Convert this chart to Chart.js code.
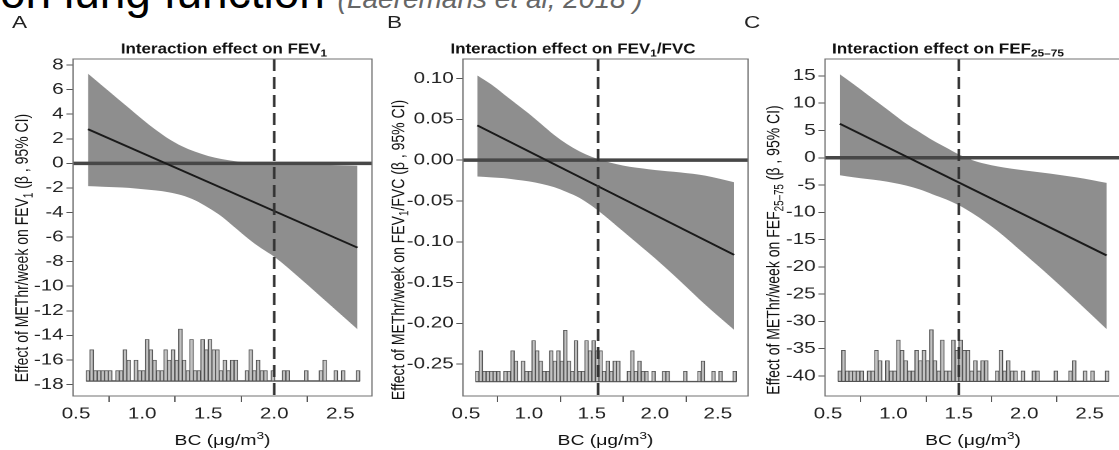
<!DOCTYPE html>
<html>
<head>
<meta charset="utf-8">
<script src="https://cdn.jsdelivr.net/npm/chart.js@4.4.1/dist/chart.umd.min.js"></script>
<style>
  body { margin: 0; width: 1119px; height: 450px; overflow: hidden; background: #fff; position: relative; font-family: "Liberation Sans", Arial, sans-serif; }
  #head { position: absolute; left: 0px; top: -31px; font-size: 46px; line-height: 46px; white-space: nowrap; color: #000; }
  #head i { color: #666; font-size: 28px; }
  #fig { position: absolute; left: 0; top: 0; width: 850px; height: 450px; transform-origin: 0 0; }
  #fig canvas { position: absolute; top: 0; }
  .lab { position: absolute; top: 13px; font-size: 17px; color: #222; }
</style>
</head>
<body>
<div id="head">on lung function <i>(Laeremans et al, 2018 )</i></div>
<div id="fig">
  <div class="lab" id="labA">A</div>
  <div class="lab" id="labB">B</div>
  <div class="lab" id="labC">C</div>
  <canvas id="cA"></canvas>
  <canvas id="cB"></canvas>
  <canvas id="cC"></canvas>
</div>
<script>
// histogram of BC values (same in the 3 panels)
const binStart = 0.576;
const binWidth = 0.028;
const binCounts = [1,3,1,1,1,1,1,0,1,1,
                   3,2,0,2,1,1,4,3,2,1,
                   1,3,2,3,2,5,2,1,4,1,
                   1,4,3,4,3,3,1,2,1,2,
                   2,0,0,1,3,1,2,1,1,0,
                   1,0,0,1,1,0,0,0,0,1,
                   0,0,0,1,2,0,0,1,0,1,
                   0,0,0,1];

const xRange = [0.477, 2.74];
const xTicks = [0.5, 1.0, 1.5, 2.0, 2.5];
const bandX = [0.59, 0.7, 0.8, 0.9, 1.0, 1.1, 1.2, 1.3, 1.4, 1.5, 1.6, 1.7, 1.8, 1.9, 2.0, 2.2, 2.4, 2.63];
const estX = [0.59, 2.63];

// A - FEV1
const yTicksA = [-18, -16, -14, -12, -10, -8, -6, -4, -2, 0, 2, 4, 6, 8];
const upperA = [7.3, 6.3, 5.4, 4.5, 3.6, 2.75, 2.0, 1.4, 0.95, 0.6, 0.35, 0.18, 0.08, 0.02, -0.02, -0.07, -0.12, -0.2];
const lowerA = [-1.85, -1.9, -1.95, -2.0, -2.1, -2.2, -2.35, -2.6, -3.0, -3.6, -4.3, -5.2, -6.1, -6.9, -7.6, -9.4, -11.3, -13.5];
const estA = [2.78, -6.86];
const cutA = 2.0;

// B - FEV1/FVC
const yTicksB = [-0.25, -0.20, -0.15, -0.10, -0.05, 0.00, 0.05, 0.10];
const upperB = [0.104, 0.093, 0.081, 0.069, 0.057, 0.044, 0.031, 0.020, 0.011, 0.004, -0.001, -0.005, -0.008, -0.010, -0.012, -0.015, -0.019, -0.027];
const lowerB = [-0.020, -0.021, -0.022, -0.024, -0.026, -0.029, -0.033, -0.039, -0.046, -0.056, -0.068, -0.081, -0.094, -0.107, -0.120, -0.148, -0.177, -0.208];
const estB = [0.0427, -0.116];
const cutB = 1.55;

// C - FEF25-75
const yTicksC = [-40, -35, -30, -25, -20, -15, -10, -5, 0, 5, 10, 15];
const upperC = [15.3, 13.4, 11.6, 9.8, 8.0, 6.2, 4.7, 3.2, 1.9, 0.6, -0.4, -1.1, -1.6, -2.0, -2.3, -2.9, -3.6, -4.6];
const lowerC = [-3.2, -3.6, -3.9, -4.2, -4.6, -5.1, -5.8, -6.7, -7.6, -8.7, -10.1, -11.7, -13.5, -15.5, -17.6, -21.8, -26.2, -31.4];
const estC = [6.23, -17.9];
const cutC = 1.5;

// the figure in the reference is stretched sideways
const SX = 1.33;
const FONT = "'Liberation Sans', Arial, sans-serif";

document.getElementById('fig').style.transform = 'scaleX(' + SX + ')';
document.getElementById('labA').style.left = (12 / SX) + 'px';
document.getElementById('labB').style.left = (387 / SX) + 'px';
document.getElementById('labC').style.left = (744 / SX) + 'px';

// page pixel layout of each panel
const panels = [
  { id: 'cA', left: 0, right: 376, plotL: 73, plotR: 372, titleX: 224, yTitleX: 21.5, yTitleY: 248,
    yr: [-18.93, 8.49], yTicks: yTicksA, dec: 0, up: upperA, lo: lowerA, est: estA, cut: cutA,
    hb: -17.71, hu: 0.846,
    title: [['Interaction effect on FEV'], ['1', 1]],
    yTitle: [['Effect of METhr/week on FEV'], ['1', 1], [' (β , 95% CI)']] },
  { id: 'cB', left: 376, right: 752, plotL: 463, plotR: 748, titleX: 573, yTitleX: 397.5, yTitleY: 250,
    yr: [-0.289, 0.124], yTicks: yTicksB, dec: 2, up: upperB, lo: lowerB, est: estB, cut: cutB,
    hb: -0.2713, hu: 0.01256,
    title: [['Interaction effect on FEV'], ['1', 1], ['/FVC']],
    yTitle: [['Effect of METhr/week on FEV'], ['1', 1], ['/FVC (β , 95% CI)']] },
  { id: 'cC', left: 752, right: 1126, plotL: 825, plotR: 1121, titleX: 948, yTitleX: 772.5, yTitleY: 250,
    yr: [-43.66, 18.1], yTicks: yTicksC, dec: 0, up: upperC, lo: lowerC, est: estC, cut: cutC,
    hb: -40.97, hu: 1.89,
    title: [['Interaction effect on FEF'], ['25–75', 1]],
    yTitle: [['Effect of METhr/week on FEF'], ['25–75', 1], [' (β , 95% CI)']] }
];
const xTitle = [['BC (μg/m'], ['3', 2], [')']];

// text with sub/superscripts, centred on (x, y)
function drawParts(ctx, parts, x, y, size, weight, squeeze, rot) {
  const font = s => weight + ' ' + s + 'px ' + FONT;
  ctx.save();
  ctx.translate(x, y);
  if (rot) ctx.rotate(rot);
  ctx.scale(squeeze, 1);
  let total = 0;
  parts.forEach(pt => { ctx.font = font(pt[1] ? size * 0.7 : size); total += ctx.measureText(pt[0]).width; });
  let cx = -total / 2;
  ctx.fillStyle = '#111';
  ctx.textAlign = 'left';
  ctx.textBaseline = 'alphabetic';
  parts.forEach(pt => {
    ctx.font = font(pt[1] ? size * 0.7 : size);
    const dy = pt[1] === 1 ? size * 0.22 : pt[1] === 2 ? -size * 0.42 : 0;
    ctx.fillText(pt[0], cx, size * 0.36 + dy);
    cx += ctx.measureText(pt[0]).width;
  });
  ctx.restore();
}

panels.forEach(p => {
  const cv = document.getElementById(p.id);
  const cLeft = Math.round(p.left / SX);
  const cw = Math.round((p.right - p.left) / SX);
  cv.width = cw;
  cv.height = 450;
  cv.style.left = cLeft + 'px';
  const plotL = p.plotL / SX - cLeft;
  const plotR = p.plotR / SX - cLeft;

  const bars = [];
  binCounts.forEach((n, i) => {
    if (n > 0) bars.push({ x: binStart + (i + 0.5) * binWidth, y: [p.hb, p.hb + n * p.hu] });
  });

  const decor = {
    id: 'decor' + p.id,
    afterDatasetDraw(chart, args) {
      if (args.index !== 3) return;
      // zero line, over the band
      const { ctx, chartArea: a, scales: { y } } = chart;
      const py = y.getPixelForValue(0);
      ctx.save();
      ctx.strokeStyle = '#474747';
      ctx.lineWidth = 3.5;
      ctx.beginPath();
      ctx.moveTo(a.left, py);
      ctx.lineTo(a.right, py);
      ctx.stroke();
      ctx.restore();
    },
    afterDatasetsDraw(chart) {
      const { ctx, chartArea: a, scales: { x } } = chart;
      const px = x.getPixelForValue(p.cut);
      ctx.save();
      ctx.strokeStyle = '#333';
      ctx.lineWidth = 2;
      ctx.setLineDash([12, 6]);
      ctx.beginPath();
      ctx.moveTo(px, a.top);
      ctx.lineTo(px, a.bottom);
      ctx.stroke();
      ctx.setLineDash([]);
      ctx.strokeStyle = '#707070';
      ctx.lineWidth = 1;
      ctx.strokeRect(a.left, a.top, a.right - a.left, a.bottom - a.top);
      ctx.restore();
    },
    afterDraw(chart) {
      const { ctx, chartArea: a } = chart;
      drawParts(ctx, p.title, p.titleX / SX - cLeft, 48, 15, 'bold', 0.85, 0);
      drawParts(ctx, p.yTitle, p.yTitleX / SX - cLeft, p.yTitleY, 14, 'normal', 1, -Math.PI / 2);
      drawParts(ctx, xTitle, (a.left + a.right) / 2, 440, 14.5, 'normal', 1, 0);
    }
  };

  new Chart(cv, {
    type: 'line',
    data: {
      datasets: [
        { data: estX.map((x, i) => ({ x, y: p.est[i] })), borderColor: '#1a1a1a', borderWidth: 1.8, pointRadius: 0 },
        { type: 'bar', data: bars, backgroundColor: '#c2c2c2', borderColor: '#505050', borderWidth: 0.8,
          borderSkipped: false, barPercentage: 1, categoryPercentage: 1 },
        { data: [{ x: binStart, y: p.hb }, { x: binStart + binCounts.length * binWidth, y: p.hb }],
          borderColor: '#555', borderWidth: 1.4, pointRadius: 0 },
        { data: bandX.map((x, i) => ({ x, y: p.up[i] })), borderColor: 'rgba(0,0,0,0)', pointRadius: 0,
          cubicInterpolationMode: 'monotone', fill: false },
        { data: bandX.map((x, i) => ({ x, y: p.lo[i] })), borderColor: 'rgba(0,0,0,0)', pointRadius: 0,
          cubicInterpolationMode: 'monotone', fill: '-1', backgroundColor: '#8e8e8e' }
      ]
    },
    options: {
      responsive: false,
      animation: false,
      devicePixelRatio: 2,
      layout: { padding: { left: 0, right: cw - plotR, top: 59, bottom: 0 } },
      plugins: { legend: { display: false }, tooltip: { enabled: false } },
      scales: {
        x: {
          type: 'linear', min: xRange[0], max: xRange[1], offset: false,
          afterFit: s => { s.height = 54; },
          afterBuildTicks: s => { s.ticks = xTicks.map(v => ({ value: v })); },
          ticks: { autoSkip: false, maxRotation: 0, padding: 3, color: '#222', font: { family: FONT, size: 15.5 },
                   callback: v => v.toFixed(1) },
          grid: { drawOnChartArea: false, drawTicks: true, tickLength: 6, color: '#555' },
          border: { display: false }
        },
        y: {
          type: 'linear', min: p.yr[0], max: p.yr[1],
          afterFit: s => { s.width = plotL; },
          afterBuildTicks: s => { s.ticks = p.yTicks.map(v => ({ value: v })); },
          ticks: { autoSkip: false, padding: 2, color: '#222', font: { family: FONT, size: 15.5 },
                   callback: v => v.toFixed(p.dec) },
          grid: { drawOnChartArea: false, drawTicks: true, tickLength: 5, color: '#555' },
          border: { display: false }
        }
      }
    },
    plugins: [decor]
  });
});
</script>
</body>
</html>
